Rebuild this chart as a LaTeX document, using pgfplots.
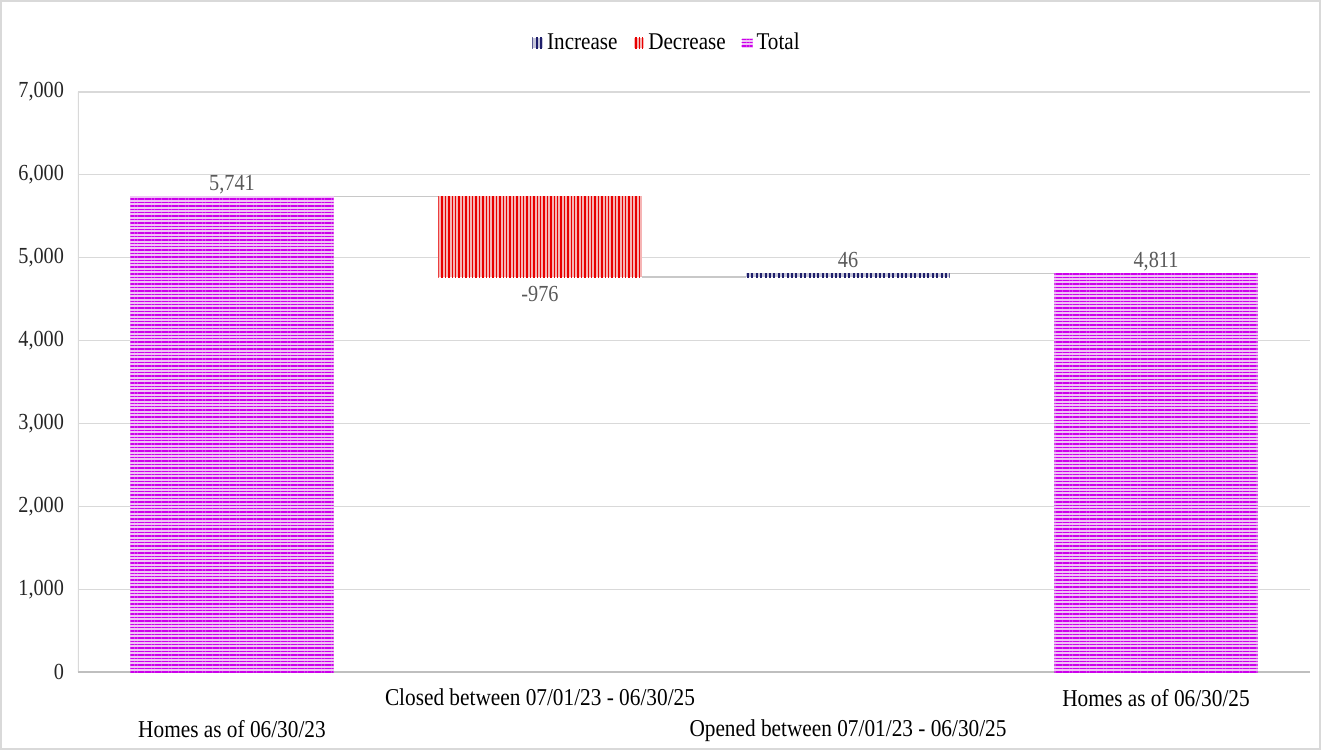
\documentclass[border=0pt]{standalone}
\usepackage{fontspec}
\setmainfont{Liberation Serif}[FakeStretch=0.88]
\usepackage{pgfplots}
\pgfplotsset{compat=1.18}
\usetikzlibrary{patterns.meta}

\definecolor{framegray}{RGB}{217,217,217}
\definecolor{gridgray}{RGB}{217,217,217}
\definecolor{axisgray}{RGB}{191,191,191}
\definecolor{labelgray}{RGB}{89,89,89}
\definecolor{tickblack}{RGB}{38,38,38}
\definecolor{totalline}{RGB}{204,0,235}
\definecolor{totalfill}{RGB}{240,196,246}
\definecolor{decline}{RGB}{232,0,0}
\definecolor{decfill}{RGB}{246,180,180}
\definecolor{incnavy}{RGB}{31,31,107}
\definecolor{connector}{RGB}{200,200,200}

\tikzset{vallabel/.style={text=labelgray, font=\fontsize{11.5}{14}\selectfont}}

\begin{document}
\begin{tikzpicture}
\useasboundingbox (0,0) rectangle (660.5pt,375pt);
\draw[line width=0.8pt, color=framegray] (0.4pt,0.4pt) rectangle (660.1pt,374.6pt);
\begin{axis}[
  at={(39pt,39pt)}, anchor=south west,
  scale only axis, width=616pt, height=290pt,
  xmin=-0.5, xmax=3.5, ymin=0, ymax=7000,
  enlargelimits=false,
  axis line style={draw=none},
  ymajorgrids=true,
  grid style={color=gridgray, line width=0.6pt},
  major tick length=0pt,
  ytick={0,1000,2000,3000,4000,5000,6000,7000},
  yticklabel style={xshift=-3.5pt, text=tickblack,
    font=\fontsize{11.5}{13}\selectfont,
    /pgf/number format/1000 sep={,},
    /pgf/number format/assume math mode=true},
  xtick={1,3},
  xticklabels={Closed between 07/01/23 - 06/30/25, Homes as of 06/30/25},
  xticklabel style={yshift=-5pt, text=black, font=\fontsize{12.1}{14}\selectfont},
  extra x ticks={0,2},
  extra x tick labels={Homes as of 06/30/23, Opened between 07/01/23 - 06/30/25},
  extra x tick style={grid=none, xticklabel style={yshift=-15.5pt}},
  legend columns=3,
  legend style={draw=none, fill=none, at={(0.5,1)}, anchor=center,
    yshift=24.5pt, xshift=-13pt,
    font=\fontsize{12}{14}\selectfont,
    /tikz/every even column/.append style={column sep=6pt}},
  legend image code/.code={\path[#1] (0pt,-2.7pt) rectangle (5.4pt,2.7pt);},
]
% axis lines: light left edge, slightly darker zero line
\draw[gridgray, line width=0.6pt] (rel axis cs:0,0) -- (rel axis cs:0,1);
\draw[axisgray, line width=0.8pt] (rel axis cs:0,0) -- (rel axis cs:1,0);

% increase: 4765 -> 4811
\addplot[draw=none, fill=incnavy!25!white,
  postaction={pattern={Lines[angle=90,distance=2.2pt,line width=1pt]}, pattern color=incnavy}]
  coordinates {(1.67,4765) (2.33,4765) (2.33,4811) (1.67,4811)} -- cycle;
% decrease: 5741 -> 4765
\addplot[draw=none, fill=decfill,
  postaction={pattern={Lines[angle=90,distance=1.7pt,line width=0.7pt]}, pattern color=decline}]
  coordinates {(0.67,4765) (1.33,4765) (1.33,5741) (0.67,5741)} -- cycle;
% totals
\addplot[draw=none, fill=totalfill,
  postaction={pattern={Lines[angle=0,distance=1.7pt,line width=0.7pt]}, pattern color=totalline}]
  coordinates {(-0.33,0) (0.33,0) (0.33,5741) (-0.33,5741)} -- cycle;
\addplot[draw=none, fill=totalfill, forget plot,
  postaction={pattern={Lines[angle=0,distance=1.7pt,line width=0.7pt]}, pattern color=totalline}]
  coordinates {(2.67,0) (3.33,0) (3.33,4811) (2.67,4811)} -- cycle;
\legend{Increase, Decrease, Total}

% connectors between the bars
\addplot[connector, line width=0.8pt, forget plot] coordinates {(0.33,5741) (0.67,5741)};
\addplot[connector, line width=0.8pt, forget plot] coordinates {(1.33,4765) (1.67,4765)};
\addplot[connector, line width=0.8pt, forget plot] coordinates {(2.33,4811) (2.67,4811)};

% value labels
\node[vallabel, anchor=base, yshift=3pt] at (axis cs:0,5741) {5,741};
\node[vallabel, anchor=base, yshift=-12pt] at (axis cs:1,4765) {-976};
\node[vallabel, anchor=base, yshift=3pt] at (axis cs:2,4811) {46};
\node[vallabel, anchor=base, yshift=3pt] at (axis cs:3,4811) {4,811};
\end{axis}
\end{tikzpicture}
\end{document}
